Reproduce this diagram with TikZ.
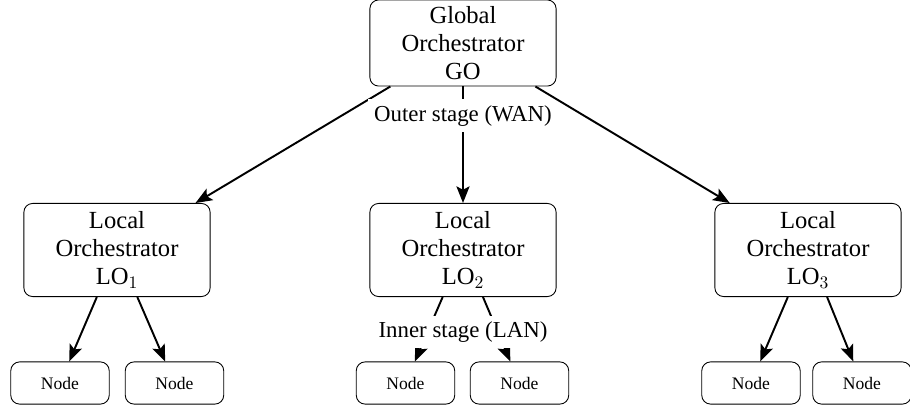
\documentclass[tikz,border=0pt]{standalone}
\usepackage{fontspec}
\setmainfont{Liberation Serif}
\usepackage{tikz}
\usetikzlibrary{arrows.meta,positioning}

\begin{document}
\begin{tikzpicture}[->,>={Stealth[length=9.5pt,width=7.5pt,inset=2pt]},auto,line width=1.1pt]
  \tikzstyle{orch}=[rectangle,rounded corners=5pt,draw=black,fill=white,
                    line width=0.5pt,align=center,minimum width=106pt,
                    font=\fontsize{14pt}{16pt}\selectfont]
  \tikzstyle{leaf}=[rectangle,rounded corners=5pt,draw=black,fill=white,
                    line width=0.5pt,minimum width=56pt,minimum height=24pt,
                    font=\fontsize{10pt}{12pt}\selectfont]
  \tikzstyle{stage}=[fill=white,font=\fontsize{13pt}{15pt}\selectfont]

  \useasboundingbox (0,0) rectangle (18.2,-8.16);

  \node[orch,minimum height=49pt] (GO) at (9.26,-0.86) {Global\\Orchestrator\\GO};
  \node[orch,minimum height=53pt] (LO2) at (9.26,-5.0) {Local\\Orchestrator\\LO$_2$};
  \node[orch,minimum height=53pt] (LO1) at (2.34,-5.0) {Local\\Orchestrator\\LO$_1$};
  \node[orch,minimum height=53pt] (LO3) at (16.16,-5.0) {Local\\Orchestrator\\LO$_3$};

  \node[leaf] (N11) at (1.2,-7.66) {Node};
  \node[leaf] (N12) at (3.49,-7.66) {Node};
  \node[leaf] (N21) at (8.11,-7.66) {Node};
  \node[leaf] (N22) at (10.39,-7.66) {Node};
  \node[leaf] (N31) at (15.02,-7.66) {Node};
  \node[leaf] (N32) at (17.24,-7.66) {Node};

  \path (GO) edge node {} (LO1)
        (GO) edge node[stage,pos=0.25,anchor=center] {Outer stage (WAN)} (LO2)
        (GO) edge node {} (LO3)
        (LO1) edge (N11)
        (LO1) edge (N12)
        (LO2) edge (N21)
        (LO2) edge (N22)
        (LO3) edge (N31)
        (LO3) edge (N32);

  \node[stage] (inner) at (9.26,-6.64) {Inner stage (LAN)};
\end{tikzpicture}
\end{document}
